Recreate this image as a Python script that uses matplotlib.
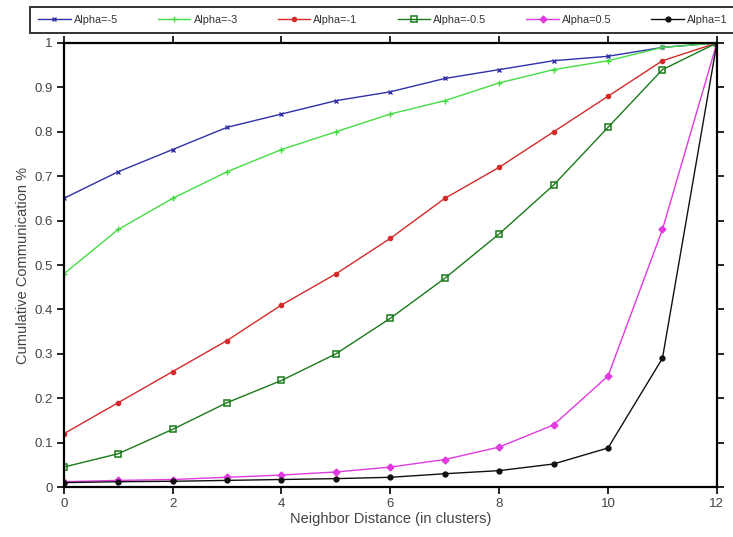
import matplotlib.pyplot as plt
from matplotlib.ticker import MultipleLocator

plt.rcParams["font.family"] = ["Liberation Sans", "DejaVu Sans"]

distance = list(range(13))

alpha_m5 = [0.65, 0.71, 0.76, 0.81, 0.84, 0.87, 0.89, 0.92, 0.94, 0.96, 0.97, 0.99, 1.0]
alpha_m3 = [0.48, 0.58, 0.65, 0.71, 0.76, 0.80, 0.84, 0.87, 0.91, 0.94, 0.96, 0.99, 1.0]
alpha_m1 = [0.12, 0.19, 0.26, 0.33, 0.41, 0.48, 0.56, 0.65, 0.72, 0.80, 0.88, 0.96, 1.0]
alpha_m05 = [0.045, 0.075, 0.13, 0.19, 0.24, 0.30, 0.38, 0.47, 0.57, 0.68, 0.81, 0.94, 1.0]
alpha_05 = [0.012, 0.015, 0.017, 0.022, 0.027, 0.034, 0.045, 0.062, 0.09, 0.14, 0.25, 0.58, 1.0]
alpha_1 = [0.010, 0.012, 0.013, 0.015, 0.017, 0.019, 0.022, 0.030, 0.037, 0.052, 0.088, 0.29, 1.0]

labels = ["Alpha=-5", "Alpha=-3", "Alpha=-1", "Alpha=-0.5", "Alpha=0.5", "Alpha=1"]

fig = plt.figure(figsize=(7.33, 5.37), dpi=100)
ax = fig.add_axes([0.087, 0.093, 0.891, 0.827])

ax.plot(distance, alpha_m5, color="#3030a8", marker="x", markersize=3, mew=1, lw=1, label=labels[0])
ax.plot(distance, alpha_m3, color="#44dd44", marker="+", markersize=4, mew=1, lw=1, label=labels[1])
ax.plot(distance, alpha_m1, color="#d42a2a", marker="o", markersize=3, lw=1, label=labels[2])
ax.plot(distance, alpha_m05, color="#1a7a1a", marker="s", markersize=5, mew=1.1, lw=1,
        markerfacecolor="none", label=labels[3])
ax.plot(distance, alpha_05, color="#e03ae0", marker="D", markersize=3.5, lw=1, label=labels[4])
ax.plot(distance, alpha_1, color="#111111", marker="o", markersize=3.5, lw=1, label=labels[5])

ax.set_xlim(0, 12)
ax.set_ylim(0, 1)
ax.xaxis.set_major_locator(MultipleLocator(2))
ax.set_yticks([0, 0.1, 0.2, 0.3, 0.4, 0.5, 0.6, 0.7, 0.8, 0.9, 1])
ax.set_yticklabels(["0", "0.1", "0.2", "0.3", "0.4", "0.5", "0.6", "0.7", "0.8", "0.9", "1"])
ax.tick_params(direction="out", top=True, right=True, labelsize=9.5,
               labelcolor="#444444", length=5, width=1.2, pad=3)
for s in ax.spines.values():
    s.set_linewidth(1.6)

ax.set_xlabel("Neighbor Distance (in clusters)", fontsize=10.5, color="#444444", labelpad=1)
ax.set_ylabel("Cumulative Communication %", fontsize=10.5, color="#444444", labelpad=3)

# legend box runs across the top and just past the right edge
leg = fig.legend(loc="lower left", bbox_to_anchor=(0.041, 0.938, 0.963, 0.053), mode="expand",
                 ncol=6, fontsize=7.8, frameon=True, fancybox=False, edgecolor="black",
                 handlelength=3.0, handletextpad=0.3, borderpad=0.75, borderaxespad=0)
leg.get_frame().set_linewidth(1.4)
for t in leg.get_texts():
    t.set_color("#333333")

fig.savefig("out.png", dpi=100)
